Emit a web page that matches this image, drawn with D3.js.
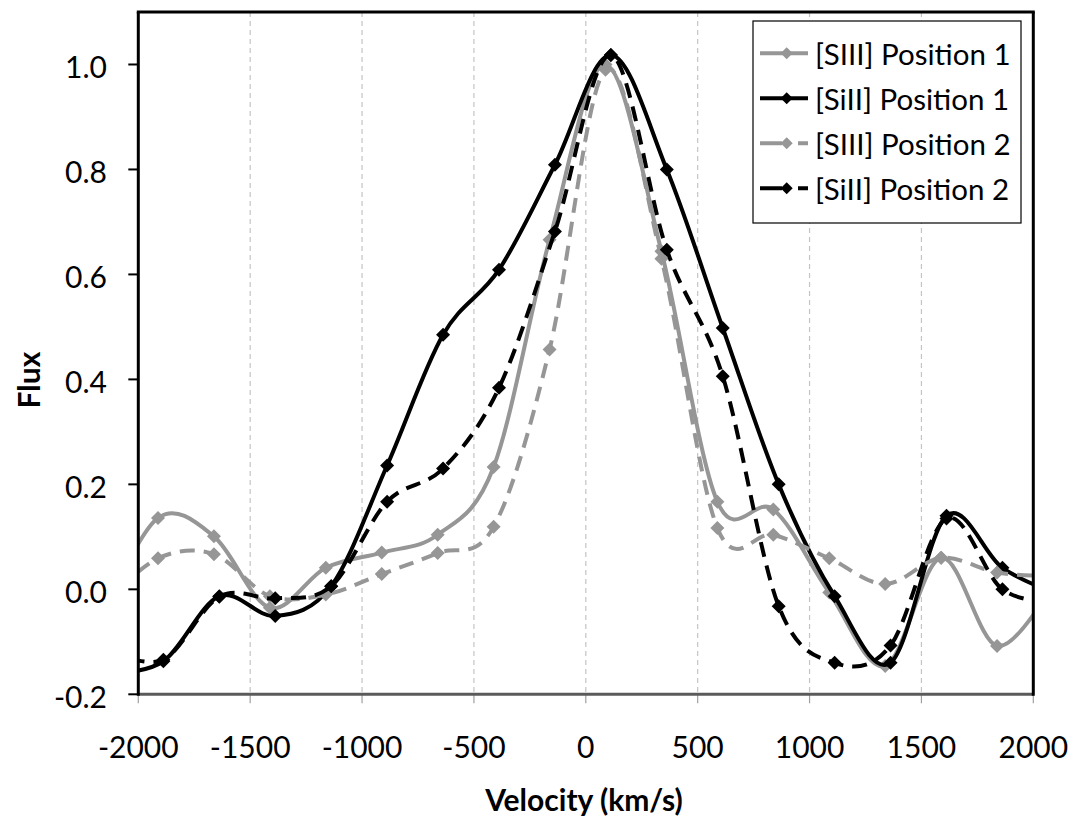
<!DOCTYPE html>
<html><head><meta charset="utf-8">
<script src="https://cdn.jsdelivr.net/npm/d3@7"></script>
<style>
body{margin:0;background:#fff}
text{font-family:Lato,"Open Sans",sans-serif;fill:#000}
</style>
</head><body>
<svg id="c" width="1073" height="820"></svg>
<script>
// ---- data ----
const velSIII = [-2162,-1912,-1662,-1412,-1162,-912,-662,-412,-162,88,338,588,838,1088,1338,1588,1838,2088];
const velSiII = [-2138,-1888,-1638,-1388,-1138,-888,-638,-388,-138,112,362,612,862,1112,1362,1612,1862,2112];
const siiiPos1 = [-0.05,0.136,0.101,-0.035,0.041,0.070,0.104,0.233,0.666,1.000,0.644,0.167,0.152,-0.006,-0.146,0.060,-0.108,0.010];
const siiPos1  = [-0.16,-0.137,-0.013,-0.051,0.006,0.236,0.485,0.609,0.809,1.018,0.800,0.498,0.200,-0.013,-0.140,0.140,0.041,-0.010];
const siiiPos2 = [-0.03,0.059,0.067,-0.013,-0.010,0.029,0.069,0.119,0.457,0.990,0.630,0.117,0.104,0.059,0.010,0.060,0.032,0.025];
const siiPos2  = [-0.115,-0.134,-0.014,-0.017,0.006,0.167,0.230,0.384,0.682,1.018,0.647,0.406,-0.032,-0.140,-0.107,0.135,0.000,-0.025];
const seriesNames = ["[SIII] Position 1","[SiII] Position 1","[SIII] Position 2","[SiII] Position 2"];
const xTickValues = [-2000,-1500,-1000,-500,0,500,1000,1500,2000];
const xTickLabels = ["-2000","-1500","-1000","-500","0","500","1000","1500","2000"];
const yTickValues = [-0.2,0,0.2,0.4,0.6,0.8,1.0];
const yTickLabels = ["-0.2","0.0","0.2","0.4","0.6","0.8","1.0"];

// ---- layout ----
const L = 138.3, R = 1033.3, T = 12, B = 694.3;
const GRAY = "#969696";
const svg = d3.select("#c");
const x = d3.scaleLinear().domain([-2000,2000]).range([L,R]);
const y = d3.scaleLinear().domain([-0.2,1.1]).range([B,T]);

const series = [
  {name:seriesNames[0], vel:velSIII, vals:siiiPos1, color:GRAY, dash:null},
  {name:seriesNames[1], vel:velSiII, vals:siiPos1,  color:"#000", dash:null},
  {name:seriesNames[2], vel:velSIII, vals:siiiPos2, color:GRAY, dash:"15,9"},
  {name:seriesNames[3], vel:velSiII, vals:siiPos2,  color:"#000", dash:"15,9"}
];

svg.append("defs").append("clipPath").attr("id","plot")
  .append("rect").attr("x",L).attr("y",T).attr("width",R-L).attr("height",B-T);

// gridlines
svg.append("g").selectAll("line").data(xTickValues.filter(v=>v>-2000&&v<2000)).join("line")
  .attr("x1",d=>x(d)).attr("x2",d=>x(d)).attr("y1",T).attr("y2",B)
  .attr("stroke","#c4c4c4").attr("stroke-width",1.2).attr("stroke-dasharray","5,4");

// x ticks
svg.append("g").selectAll("line").data(xTickValues).join("line")
  .attr("x1",d=>x(d)).attr("x2",d=>x(d)).attr("y1",B).attr("y2",B+9)
  .attr("stroke","#a0a0a0").attr("stroke-width",1.2);
svg.append("g").selectAll("text").data(xTickValues).join("text")
  .attr("x",d=>x(d)).attr("y",758).attr("text-anchor","middle")
  .attr("font-size",30).text((d,i)=>xTickLabels[i]);

// y ticks
svg.append("g").selectAll("line").data(yTickValues).join("line")
  .attr("x1",L-10).attr("x2",L).attr("y1",d=>y(d)).attr("y2",d=>y(d))
  .attr("stroke","#000").attr("stroke-width",2);
svg.append("g").selectAll("text").data(yTickValues).join("text")
  .attr("x",107).attr("y",d=>y(d)+14).attr("text-anchor","end")
  .attr("font-size",30).text((d,i)=>yTickLabels[i]);

// series
const line = d3.line().x(d=>x(d[0])).y(d=>y(d[1])).curve(d3.curveCardinal.tension(0));
const diamond = (cx,cy,r)=>`M${cx},${cy-r}L${cx+r},${cy}L${cx},${cy+r}L${cx-r},${cy}Z`;
const plot = svg.append("g").attr("clip-path","url(#plot)");
series.forEach(s=>{
  const pts = s.vel.map((v,i)=>[v,s.vals[i]]);
  const g = plot.append("g");
  g.append("path").attr("d",line(pts)).attr("fill","none")
    .attr("stroke",s.color).attr("stroke-width",4)
    .attr("stroke-dasharray",s.dash);
  g.selectAll("path.m").data(pts).join("path").attr("class","m")
    .attr("d",d=>diamond(x(d[0]),y(d[1]),7)).attr("fill",s.color);
});

// frame
svg.append("line").attr("x1",L).attr("x2",R).attr("y1",B).attr("y2",B)
  .attr("stroke","#5a5a5a").attr("stroke-width",3);
svg.append("line").attr("x1",L-1.5).attr("x2",R+1.5).attr("y1",T).attr("y2",T)
  .attr("stroke","#000").attr("stroke-width",3);
svg.append("line").attr("x1",R).attr("x2",R).attr("y1",T).attr("y2",B+1.5)
  .attr("stroke","#000").attr("stroke-width",3);
svg.append("line").attr("x1",L).attr("x2",L).attr("y1",T).attr("y2",B+1.5)
  .attr("stroke","#000").attr("stroke-width",3);

// legend
const lg = svg.append("g");
lg.append("rect").attr("x",753).attr("y",21).attr("width",268).attr("height",202)
  .attr("fill","#fff").attr("stroke","#000").attr("stroke-width",1.2);
series.forEach((s,i)=>{
  const cy = 53.3 + i*45;
  lg.append("line").attr("x1",760).attr("x2",808).attr("y1",cy).attr("y2",cy)
    .attr("stroke",s.color).attr("stroke-width",4)
    .attr("stroke-dasharray",s.dash?"22,16,10":null);
  lg.append("path").attr("d",diamond(786.7,cy,6)).attr("fill",s.color);
  lg.append("text").attr("x",815).attr("y",cy+11.5).attr("font-size",29.5).text(s.name);
});

// axis titles
svg.append("text").attr("x",584).attr("y",811).attr("text-anchor","middle")
  .attr("font-size",30).attr("font-weight","bold").text("Velocity (km/s)");
svg.append("text").attr("transform","translate(40,380) rotate(-90)").attr("text-anchor","middle")
  .attr("font-size",30).attr("font-weight","bold").text("Flux");
</script>
</body></html>
